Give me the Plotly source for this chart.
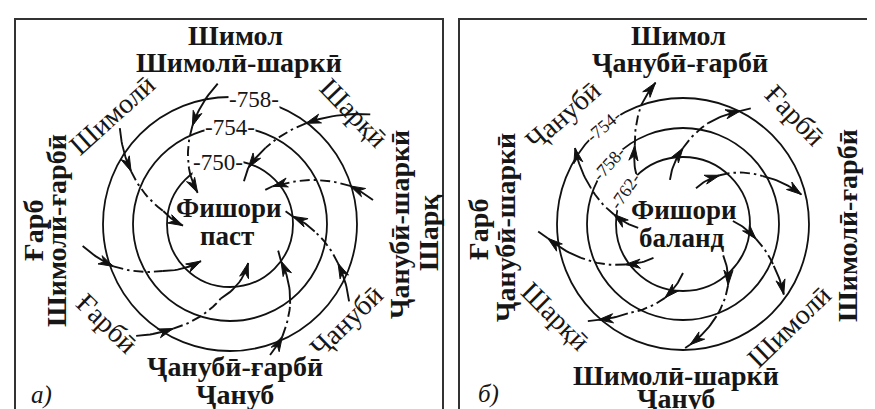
import math
import plotly.graph_objects as go

W, H = 875, 409
SERIF = "Liberation Serif"

# isobar values, inner -> outer
isobars_a = [750, 754, 758]
isobars_b = [762, 758, 754]

# wind paths: radius / angle (deg, ccw from east) per node
# node order: start, head 1, end of dash-dot, head 2, (tail)
wind_a_r = [[141, 105, 63, 45], [178, 126, 84, 59, 45], [145, 126, 66, 57, 49],
            [142, 115, 85, 63, 57], [137, 124, 100, 63, 55], [146, 119, 75, 43],
            [149, 124, 82, 47], [146, 112, 68, 47]]
wind_a_deg = [[95, 111, 129, 136], [38, 53, 65, 72, 72], [9.5, 17.6, 37, 41.5, 44],
              [-33, -20, -5, 7, 13], [-73, -65, -53, -36, -29], [-130, -118.5, -97, -65],
              [-171.5, -160, -145, -128], [139, 152, 169, 182]]
wind_b_r = [[63, 92, 126, 144], [46, 76, 104, 127, 134], [38, 61, 93, 122],
            [50, 74.5, 100, 123], [51, 76, 98, 121, 124], [49, 76, 105, 128, 136],
            [45, 70.5, 107.5, 136, 145], [45, 70, 99, 132]]
wind_b_deg = [[136, 121.6, 109.4, 101], [106.5, 90, 76, 63, 59.6], [70, 53, 31, 14],
              [3.4, -11.6, -24.8, -35], [-38, -53.6, -70, -86.7, -89],
              [-90, -103.7, -121.7, -131.5, -134.4], [-131, -145, -161.6, -174, -177],
              [185, 172, 158.6, 144.9]]

# compass labels
top_a = ["Шимол", "Шимолӣ-шаркӣ"]
bottom_a = ["Ҷанубӣ-ғарбӣ", "Ҷануб"]
left_a = ["Ғарб", "Шимолӣ-ғарбӣ"]
right_a = ["Ҷанубӣ-шаркӣ", "Шарқ"]
diag_a = ["Шимолӣ", "Шарқӣ", "Ҷанубӣ", "Ғарбӣ"]  # NW, NE, SE, SW
top_b = ["Шимол", "Ҷанубӣ-ғарбӣ"]
bottom_b = ["Шимолӣ-шаркӣ", "Ҷануб"]
left_b = ["Ғарб", "Ҷанубӣ-шаркӣ"]
right_b = ["Шимолӣ-ғарбӣ", "Шарқ"]
diag_b = ["Ҷанубӣ", "Ғарбӣ", "Шимолӣ", "Шарқӣ"]

fig = go.Figure()


def pt(c, r, deg):
    a = math.radians(deg)
    return c[0] + r * math.cos(a), c[1] - r * math.sin(a)


def seg(c, r0, d0, r1, d1, n=14):
    xs, ys = [], []
    for i in range(n + 1):
        t = i / n
        x, y = pt(c, r0 + (r1 - r0) * t, d0 + (d1 - d0) * t)
        xs.append(x)
        ys.append(y)
    return xs, ys


def head(c, r0, d0, r1, d1):
    tx, ty = pt(c, r1, d1)
    px, py = pt(c, r0 + (r1 - r0) * 0.85, d0 + (d1 - d0) * 0.85)
    ux, uy = tx - px, ty - py
    L = math.hypot(ux, uy) or 1
    ux, uy = ux / L, uy / L
    nx, ny = -uy, ux
    ln, w = 15, 4.6
    xs = [tx, tx - ln * ux + w * nx, tx - 0.7 * ln * ux, tx - ln * ux - w * nx, tx]
    ys = [ty, ty - ln * uy + w * ny, ty - 0.7 * ln * uy, ty - ln * uy - w * ny, ty]
    fig.add_trace(go.Scatter(x=xs, y=ys, mode="lines", fill="toself", fillcolor="#111",
                             line=dict(color="#111", width=1), hoverinfo="skip", showlegend=False))


def winds(c, rs, ds):
    sx, sy, dx, dy = [], [], [], []
    for r, d in zip(rs, ds):
        for i in range(len(r) - 1):
            xs, ys = seg(c, r[i], d[i], r[i + 1], d[i + 1])
            if i == 1:
                dx += xs + [None]
                dy += ys + [None]
            else:
                sx += xs + [None]
                sy += ys + [None]
        head(c, r[0], d[0], r[1], d[1])
        head(c, r[2], d[2], r[3], d[3])
    fig.add_trace(go.Scatter(x=sx, y=sy, mode="lines", line=dict(color="#111", width=1.9),
                             hoverinfo="skip", showlegend=False))
    fig.add_trace(go.Scatter(x=dx, y=dy, mode="lines",
                             line=dict(color="#111", width=1.9, dash="10px,4px,2.5px,4px"),
                             hoverinfo="skip", showlegend=False))


def txt(x, y, s, size, angle=0, bold=False, italic=False, bg=None):
    if bold:
        s = "<b>" + s + "</b>"
    if italic:
        s = "<i>" + s + "</i>"
    fig.add_annotation(x=x, y=y, text=s, showarrow=False, textangle=angle,
                       xanchor="center", yanchor="middle",
                       font=dict(family=SERIF, size=size, color="#161616"),
                       bgcolor=bg, borderpad=0)


ca, cb = (222, 216), (675, 216)
rad_a, rad_b = [63, 97, 127], [67, 96, 126]
BIG = 28

# frames
for x0, x1 in [(7, 435), (451, 890)]:
    fig.add_shape(type="rect", x0=x0, x1=x1, y0=11, y1=420,
                  line=dict(color="#333", width=2))

# isobars
for c, rads in [(ca, rad_a), (cb, rad_b)]:
    for r in rads:
        fig.add_shape(type="circle", x0=c[0] - r, x1=c[0] + r, y0=c[1] - r, y1=c[1] + r,
                      line=dict(color="#111", width=1.8))

winds(ca, wind_a_r, wind_a_deg)
winds(cb, wind_b_r, wind_b_deg)

# isobar labels
for v, r, d in zip(isobars_a, rad_a, [101, 90, 79]):
    x, y = pt(ca, r, d)
    txt(x, y, "-" + str(v) + "-", 23, bg="white")
for v, r, d, ang in zip(isobars_b, rad_b, [150, 141, 129], [-55, -48, -40]):
    x, y = pt(cb, r, d)
    txt(x, y, "-" + str(v) + "-", 18, angle=ang, bg="white")

# centre labels
txt(221, 200, "Фишори", 27, bold=True)
txt(219, 228, "паст", 27, bold=True)
txt(676, 202, "Фишори", 27, bold=True)
txt(673, 230, "баланд", 27, bold=True)

# compass labels
txt(227, 27, top_a[0], BIG, bold=True)
txt(231, 54, top_a[1], BIG, bold=True)
txt(227, 358, bottom_a[0], BIG, bold=True)
txt(227, 386, bottom_a[1], BIG, bold=True)
txt(25, 223, left_a[0], BIG, angle=-90, bold=True)
txt(48, 223, left_a[1], BIG, angle=-90, bold=True)
txt(391, 217, right_a[0], BIG, angle=-90, bold=True)
txt(420, 225, right_a[1], BIG, angle=-90, bold=True)

txt(670, 27, top_b[0], BIG, bold=True)
txt(672, 54, top_b[1], BIG, bold=True)
txt(668, 367, bottom_b[0], BIG, bold=True)
txt(668, 390, bottom_b[1], BIG, bold=True)
txt(470, 222, left_b[0], BIG, angle=-90, bold=True)
txt(497, 220, left_b[1], BIG, angle=-90, bold=True)
txt(839, 218, right_b[0], BIG, angle=-90, bold=True)
txt(868, 215, right_b[1], BIG, angle=-90, bold=True)

# diagonal labels
for c, names, spots in [(ca, diag_a, [(161, 137, -42), (166, 42, 46), (151, -40, -44), (158, -141, 44)]),
                        (cb, diag_b, [(162, 138, -41), (156, 44, 46), (147, -44, -44), (157, -144, 45)])]:
    for s, (r, d, ang) in zip(names, spots):
        x, y = pt(c, r, d)
        txt(x, y, s, 28, angle=ang)

txt(33, 387, "а)", 25, italic=True)
txt(480, 386, "б)", 25, italic=True)

fig.update_layout(width=W, height=H, margin=dict(l=0, r=0, t=0, b=0),
                  plot_bgcolor="white", paper_bgcolor="white",
                  xaxis=dict(range=[0, W], visible=False, fixedrange=True),
                  yaxis=dict(range=[H, 0], visible=False, fixedrange=True))
fig.write_html("out.html")
